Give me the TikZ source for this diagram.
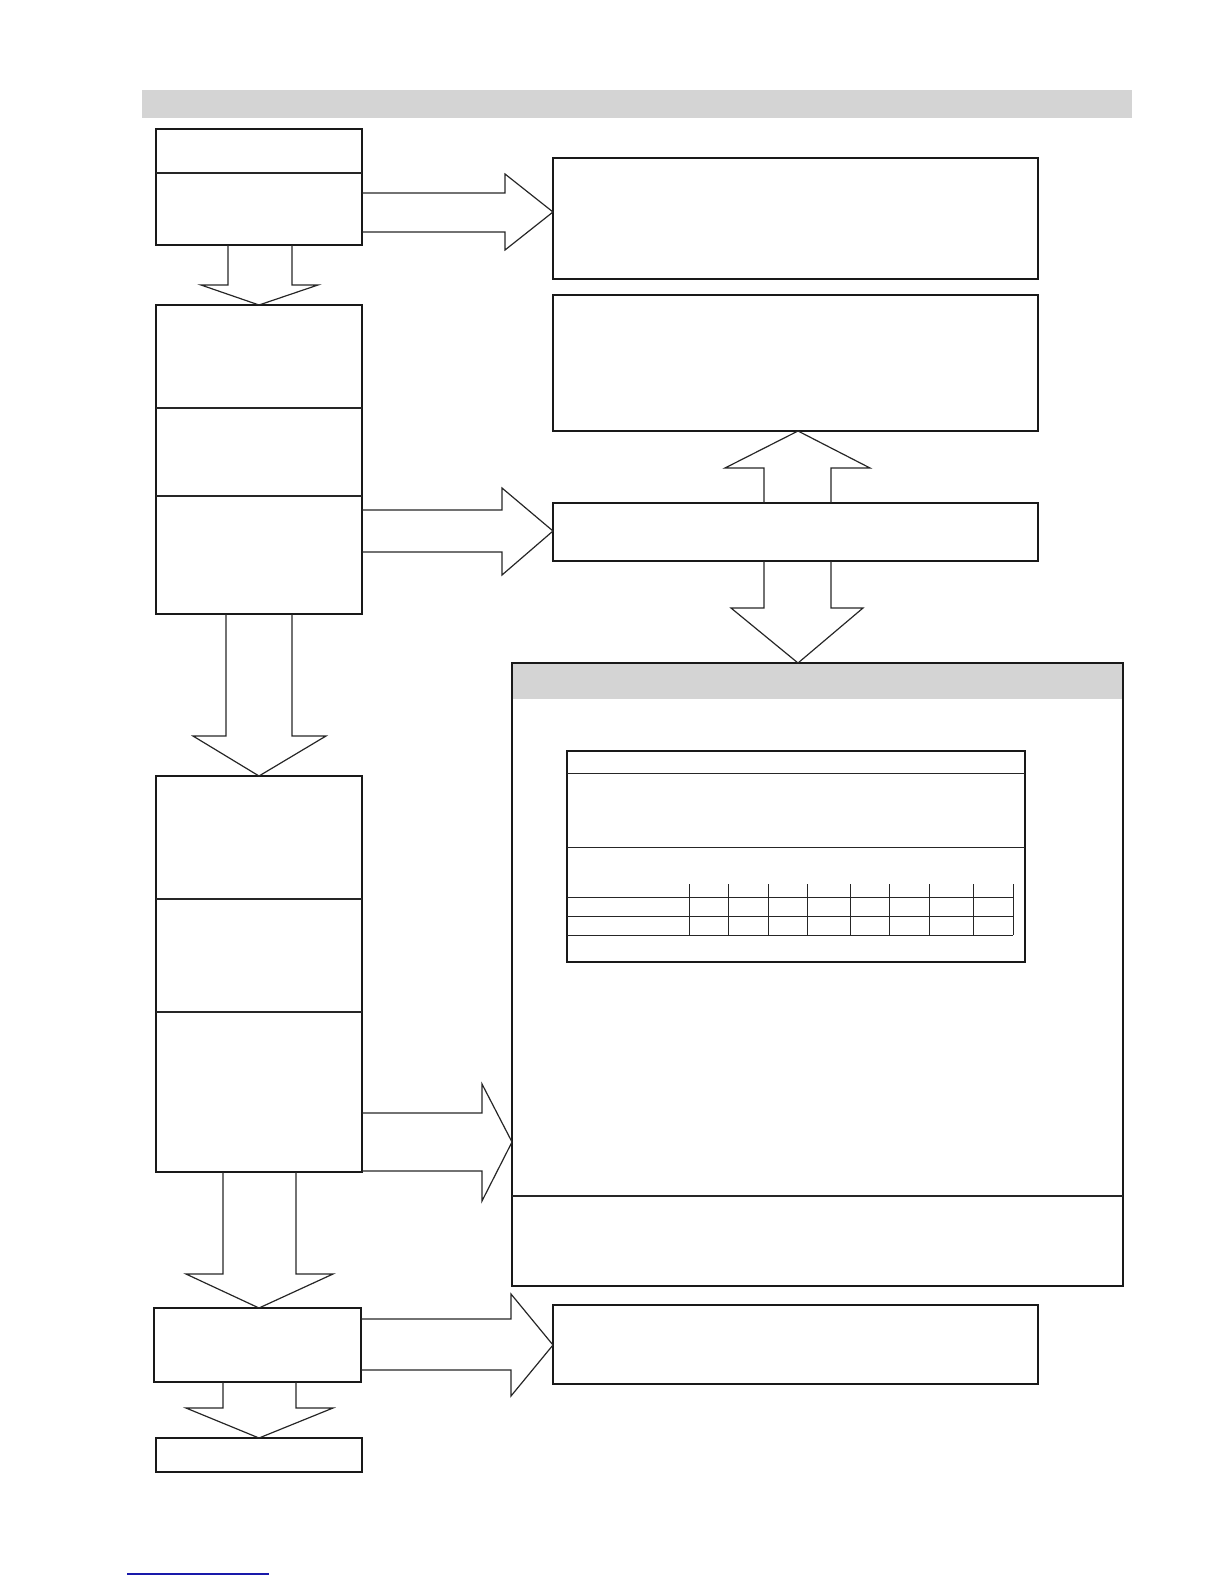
\documentclass[tikz,border=0pt]{standalone}
\usetikzlibrary{calc}
\definecolor{barfill}{RGB}{212,212,212}
\definecolor{linkblue}{RGB}{25,25,170}
\begin{document}
\begin{tikzpicture}[x=1pt, y=-1pt,
  box/.style={rectangle, draw=black!90, line width=1.4pt, inner sep=0pt, outer sep=0pt, anchor=north west},
  blk/.style={draw=black!85, line width=1.2pt, line join=miter},
  rule/.style={draw=black!85, line width=1.2pt},
  grid/.style={draw=black!85, line width=1pt}]
\useasboundingbox (0,0) rectangle (1224,1584);

% header bar
\node[box, draw=none, fill=barfill, minimum width=990pt, minimum height=28pt] (bar) at (142,90) {};

% left column
\node[box, minimum width=206pt, minimum height=116pt] (A) at (156,129) {};
\node[box, minimum width=206pt, minimum height=309pt] (B) at (156,305) {};
\node[box, minimum width=206pt, minimum height=396pt] (C) at (156,776) {};
\node[box, minimum width=207pt, minimum height=74pt] (D) at (154,1308) {};
\node[box, minimum width=206pt, minimum height=34pt] (E) at (156,1438) {};
\draw[rule] (A.west |- 0,173) -- (A.east |- 0,173);
\draw[rule] (B.west |- 0,408) -- (B.east |- 0,408);
\draw[rule] (B.west |- 0,496) -- (B.east |- 0,496);
\draw[rule] (C.west |- 0,899) -- (C.east |- 0,899);
\draw[rule] (C.west |- 0,1012) -- (C.east |- 0,1012);

% right column
\node[box, minimum width=485pt, minimum height=121pt] (R1) at (553,158) {};
\node[box, minimum width=485pt, minimum height=136pt] (R2) at (553,295) {};
\node[box, minimum width=485pt, minimum height=58pt] (R3) at (553,503) {};
\node[box, minimum width=485pt, minimum height=79pt] (R4) at (553,1305) {};

% big panel with table
\fill[barfill] (512,663) rectangle (1123,699);
\node[box, minimum width=611pt, minimum height=623pt] (big) at (512,663) {};
\draw[rule] (big.west |- 0,1196) -- (big.east |- 0,1196);
\node[box, line width=1.1pt, minimum width=458pt, minimum height=211pt] (tbl) at (567,751) {};
\draw[grid] (tbl.west |- 0,773) -- (tbl.east |- 0,773);
\draw[grid] (tbl.west |- 0,847) -- (tbl.east |- 0,847);
\draw[grid] (tbl.west |- 0,897) -- (1013,897)
  (tbl.west |- 0,916) -- (1013,916)
  (tbl.west |- 0,935) -- (1013,935);
\foreach \cx in {689,728,768,807,850,889,929,973,1013}
  \draw[grid] (\cx,884) -- (\cx,935);
\draw[line width=2pt, black!90] (tbl.south west) -- (tbl.south east);

% block arrows, right
\draw[blk] (A.east |- 0,193) -- (505,193) -- (505,174) -- (R1.west |- 0,212)
  -- (505,250) -- (505,232) -- (A.east |- 0,232);
\draw[blk] (B.east |- 0,510) -- (502,510) -- (502,488) -- (R3.west |- 0,531)
  -- (502,575) -- (502,552) -- (B.east |- 0,552);
\draw[blk] (C.east |- 0,1113) -- (482,1113) -- (482,1084) -- (big.west |- 0,1142)
  -- (482,1201) -- (482,1171) -- (C.east |- 0,1171);
\draw[blk] (D.east |- 0,1319) -- (511,1319) -- (511,1294) -- (R4.west |- 0,1345)
  -- (511,1396) -- (511,1370) -- (D.east |- 0,1370);

% block arrows, down
\draw[blk] (A.south -| 228,0) -- (228,285) -- (201,285) -- (B.north)
  -- (318,285) -- (292,285) -- (A.south -| 292,0);
\draw[blk] (B.south -| 226,0) -- (226,736) -- (193,736) -- (C.north)
  -- (326,736) -- (292,736) -- (B.south -| 292,0);
\draw[blk] (C.south -| 223,0) -- (223,1274) -- (186,1274) -- (D.north -| 259,0)
  -- (333,1274) -- (296,1274) -- (C.south -| 296,0);
\draw[blk] (D.south -| 223,0) -- (223,1408) -- (186,1408) -- (E.north)
  -- (333,1408) -- (296,1408) -- (D.south -| 296,0);
\draw[blk] (R3.south -| 764,0) -- (764,608) -- (731,608) -- (big.north -| 798,0)
  -- (863,608) -- (831,608) -- (R3.south -| 831,0);

% block arrow, up
\draw[blk] (R3.north -| 764,0) -- (764,468) -- (725,468) -- (R2.south -| 798,0)
  -- (870,468) -- (831,468) -- (R3.north -| 831,0);

% link underline
\draw[linkblue, line width=1.2pt] (127,1574) -- (269,1574);
\end{tikzpicture}
\end{document}
